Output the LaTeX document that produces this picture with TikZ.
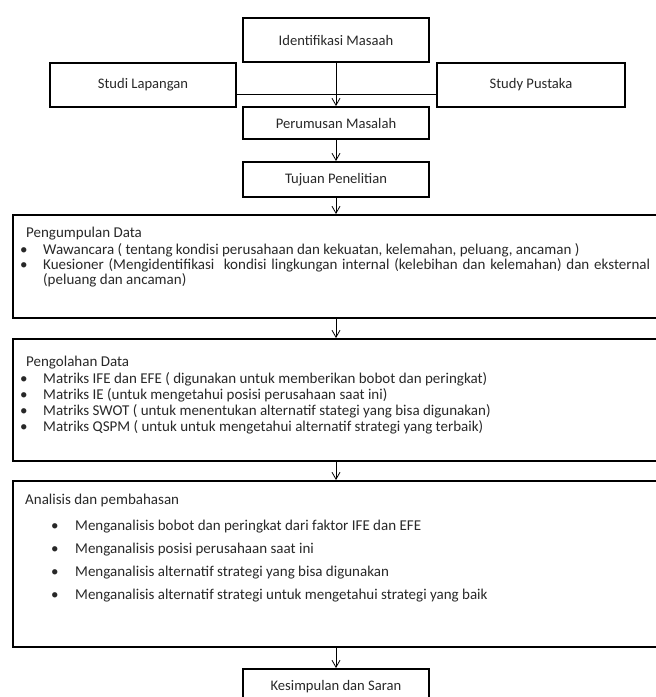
\documentclass[tikz,border=0pt]{standalone}
\usepackage{fontspec}
\setmainfont{Carlito}
\usepackage{tikz}
\usetikzlibrary{arrows.meta,positioning}
\usepackage{xcolor}
\definecolor{txtgray}{RGB}{40,40,40}
\tikzstyle{box} = [draw, line width=2pt, minimum width=186pt, minimum height=44pt, inner sep=0pt, text=txtgray, font=\fontsize{14.6}{16}\selectfont]
\tikzstyle{widebox} = [draw, line width=2pt, minimum width=647pt, inner sep=0pt]
\tikzstyle{item} = [anchor=base west, inner sep=0pt, text=txtgray, font=\fontsize{15}{16}\selectfont]
\tikzstyle{arrow} = [line width=0.8pt,-{Straight Barb[length=7pt,width=8pt]}]
\newcommand{\bul}[1]{\makebox[#1][l]{\textbullet}}

\begin{document}
\begin{tikzpicture}[x=1pt,y=-1pt]
\useasboundingbox (0,0) rectangle (656,697);
\clip (0,0) rectangle (656,697);

% Top boxes
\node[box] (iden) at (336,40) {Identifikasi Masaah};
\node[box] (lap) at (143,85) {Studi Lapangan};
\node[box, minimum width=188pt] (pus) at (531,85) {Study Pustaka};
\node[box, minimum height=32pt] (rum) at (336,123) {Perumusan Masalah};
\node[box, minimum height=35pt] (tuj) at (336,179.5) {Tujuan Penelitian};

% Wide boxes
\node[widebox, minimum height=103pt] (kum) at (336.5,266.5) {};
\node[widebox, minimum height=122pt] (olah) at (336.5,400) {};
\node[widebox, minimum height=166pt] (anal) at (336.5,564) {};
\node[box, minimum height=36pt] (kes) at (336,687) {Kesimpulan dan Saran};

% Pengumpulan data
\node[item] (kumhead) at (26,237) {Pengumpulan Data};
\node[item] (kum1) at (20,254) {\bul{23pt}Wawancara ( tentang kondisi perusahaan dan kekuatan, kelemahan, peluang, ancaman )};
\node[item] (kum2) at (20,269) {\bul{23pt}\makebox[607pt][s]{Kuesioner (Mengidentifikasi\ \ kondisi lingkungan internal (kelebihan dan kelemahan) dan eksternal}};
\node[item] (kum3) at (43,284) {(peluang dan ancaman)};

% Pengolahan data
\node[item] (olahhead) at (26,366) {Pengolahan Data};
\node[item] (olah1) at (20,383) {\bul{23pt}Matriks IFE dan EFE ( digunakan untuk memberikan bobot dan peringkat)};
\node[item] (olah2) at (20,399) {\bul{23pt}Matriks IE (untuk mengetahui posisi perusahaan saat ini)};
\node[item] (olah3) at (20,415) {\bul{23pt}Matriks SWOT ( untuk menentukan alternatif stategi yang bisa digunakan)};
\node[item] (olah4) at (20,431) {\bul{23pt}Matriks QSPM ( untuk untuk mengetahui alternatif strategi yang terbaik)};

% Analisis
\node[item] (analhead) at (25,504) {Analisis dan pembahasan};
\node[item] (anal1) at (51,530) {\bul{24pt}Menganalisis bobot dan peringkat dari faktor IFE dan EFE};
\node[item] (anal2) at (51,553) {\bul{24pt}Menganalisis posisi perusahaan saat ini};
\node[item] (anal3) at (51,576) {\bul{24pt}Menganalisis alternatif strategi yang bisa digunakan};
\node[item] (anal4) at (51,599) {\bul{24pt}Menganalisis alternatif strategi untuk mengetahui strategi yang baik};

% Connectors
\draw[line width=0.8pt] ([yshift=-9pt]lap.east) -- ([yshift=-9pt]pus.west);
\draw[arrow] (iden.south) -- (rum.north);
\draw[arrow] (rum.south) -- (tuj.north);
\draw[arrow] (tuj.south) -- (tuj.south |- kum.north);
\draw[arrow] (tuj.south |- kum.south) -- (tuj.south |- olah.north);
\draw[arrow] (tuj.south |- olah.south) -- (tuj.south |- anal.north);
\draw[arrow] (kes.north |- anal.south) -- (kes.north);
\end{tikzpicture}
\end{document}
